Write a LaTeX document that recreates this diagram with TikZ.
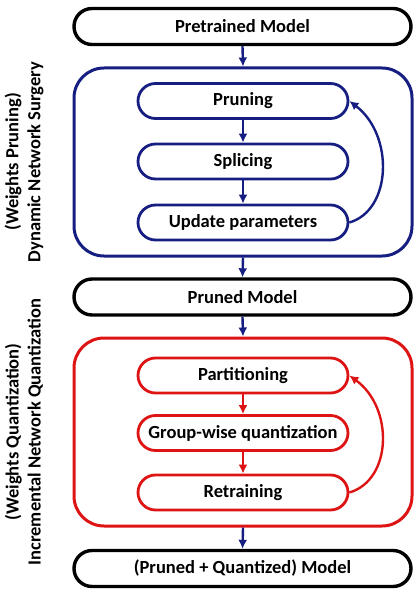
\documentclass[tikz,border=0pt]{standalone}
\usepackage{fontspec}
\setmainfont{Carlito}
\usetikzlibrary{arrows.meta}
\definecolor{navy}{RGB}{22,30,130}
\definecolor{myred}{RGB}{222,20,20}
\begin{document}
\begin{tikzpicture}[x=1pt,y=-1pt,
  font=\fontsize{18.5}{22}\selectfont\bfseries,
  outerbox/.style={draw=black,line width=3.4pt,minimum width=337pt,minimum height=36pt,rounded corners=18pt,inner sep=0pt},
  container/.style={line width=3pt,minimum width=338pt,minimum height=188pt,rounded corners=30pt,inner sep=0pt},
  innerbox/.style={line width=2.8pt,minimum width=210pt,minimum height=35pt,rounded corners=17.5pt,inner sep=0pt},
  arr/.style={line width=2.4pt,-{Latex[length=9pt,width=9pt]}},
  sidelabel/.style={rotate=90,align=center}]
\useasboundingbox (0,0) rectangle (420,594);
% outer boxes
\node[outerbox] (pre) at (242.5,26.5) {Pretrained Model};
\node[container,draw=navy] (blue) at (243,162) {};
\node[innerbox,draw=navy] (prun) at (243,101) {Pruning};
\node[innerbox,draw=navy] (spl) at (243,161.5) {Splicing};
\node[innerbox,draw=navy] (upd) at (243,222.5) {Update parameters};
\node[outerbox] (pruned) at (242.5,297) {Pruned Model};
\node[container,draw=myred] (red) at (243,432) {};
\node[innerbox,draw=myred] (part) at (243,375.5) {Partitioning};
\node[innerbox,draw=myred] (grp) at (243,433) {Group-wise quantization};
\node[innerbox,draw=myred] (ret) at (243,492.5) {Retraining};
\node[outerbox] (final) at (242.5,568.5) {(Pruned + Quantized) Model};
% side labels
\node[sidelabel] (lab1) at (24,162) {(Weights Pruning)\\Dynamic Network Surgery};
\node[sidelabel] (lab2) at (24,432) {(Weights Quantization)\\Incremental Network Quantization};
% arrows
\draw[arr,navy] (pre.south) -- (blue.north);
\draw[arr,navy] (prun.south) -- (spl.north);
\draw[arr,navy] (spl.south) -- (upd.north);
\draw[arr,navy] (blue.south) -- (pruned.north);
\draw[arr,navy] (upd.east) .. controls (392,210) and (394,135) .. (prun.east);
\draw[arr,navy] (pruned.south) -- (red.north);
\draw[arr,myred] (part.south) -- (grp.north);
\draw[arr,myred] (grp.south) -- (ret.north);
\draw[arr,myred] (ret.east) .. controls (392,480) and (394,408) .. (part.east);
\draw[arr,navy] (red.south) -- (final.north);
\end{tikzpicture}
\end{document}
